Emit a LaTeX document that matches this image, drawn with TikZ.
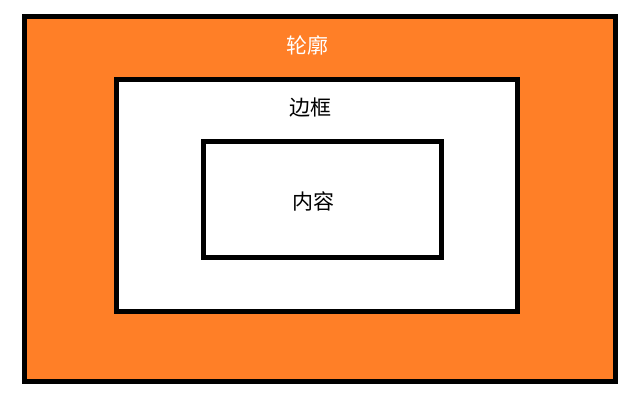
\documentclass[tikz,border=0pt]{standalone}
\usepackage{fontspec}
\newfontfamily\cjk{Noto Sans CJK SC}
\definecolor{paintorange}{HTML}{FF7F27}
\begin{document}
\begin{tikzpicture}[x=1pt,y=-1pt,
  boxline/.style={draw=black,line width=5pt},
  lbl/.style={font=\cjk\fontsize{21}{25}\selectfont,inner sep=0pt}]
\useasboundingbox (0,0) rectangle (642,410);
\draw[boxline,fill=paintorange] (24.5,16.5) rectangle (615.5,381.5);
\draw[boxline,fill=white] (116.5,79.5) rectangle (517.5,311.5);
\draw[boxline,fill=white] (203.5,141.5) rectangle (441.5,257.5);
\node[lbl,text=white] (outline) at (307,45) {轮廓};
\node[lbl,text=black] (border) at (310.5,108) {边框};
\node[lbl,text=black] (content) at (313,201.5) {内容};
\end{tikzpicture}
\end{document}
